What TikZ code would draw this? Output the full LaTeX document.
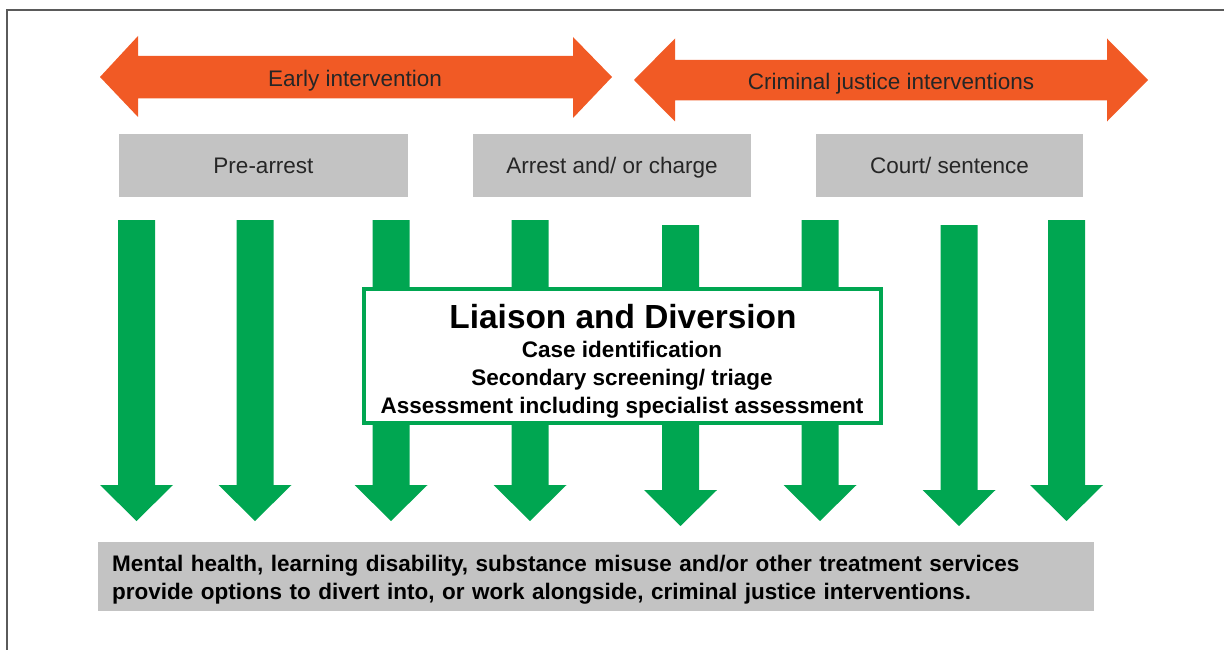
\documentclass[tikz,border=0pt]{standalone}
\usepackage{fontspec}
\setmainfont{Liberation Sans}
\definecolor{ljorange}{HTML}{F15A25}
\definecolor{ljgreen}{HTML}{00A651}
\definecolor{ljgray}{HTML}{C3C3C3}
\definecolor{ljframe}{HTML}{5A5A5A}
\tikzset{
  orangearrow/.style={fill=ljorange, draw=none},
  greenarrow/.style={fill=ljgreen, draw=none},
  stagebox/.style={fill=ljgray, draw=none, minimum height=63pt, inner sep=0pt,
    text height=16pt, text depth=0pt,
    font=\fontsize{22.5}{27}\selectfont, text=black!85},
  arrowlabel/.style={font=\fontsize{22.5}{27}\selectfont, text=black!85, inner sep=0pt,
    text height=16pt, text depth=0pt},
  ldbox/.style={fill=white, draw=ljgreen, line width=4pt, minimum width=517pt, minimum height=134pt,
    inner sep=0pt, align=center},
  bottombox/.style={fill=ljgray, draw=none, minimum width=996pt, minimum height=69pt, inner sep=0pt},
  bottomtext/.style={inner sep=0pt, text width=970pt, align=left,
    font=\fontsize{22.5}{28}\selectfont\bfseries},
}
\begin{document}
\begin{tikzpicture}[x=1pt,y=-1pt]
\useasboundingbox (0,0) rectangle (1224,650);
% frame
\draw[ljframe, line width=2pt] (6.5,650) -- (6.5,10) -- (1224,10);
% orange double arrows
\fill[orangearrow] (100,77) -- (138,36) -- (138,56) -- (573,56) -- (573,37) -- (612,77)
  -- (573,118) -- (573,98.5) -- (138,98.5) -- (138,117) -- cycle;
\node[arrowlabel] (early) at (355,78.5) {Early intervention};
\fill[orangearrow] (634,80) -- (675,38.5) -- (675,60) -- (1107,60) -- (1107,38.5) -- (1148,80)
  -- (1107,121.5) -- (1107,100.5) -- (675,100.5) -- (675,121.5) -- cycle;
\node[arrowlabel] (cji) at (891,82) {Criminal justice interventions};
% stage boxes
\node[stagebox, minimum width=289pt] (pre) at (263.5,165.5) {Pre-arrest};
\node[stagebox, minimum width=278pt] (arrest) at (612,165.5) {Arrest and/ or charge};
\node[stagebox, minimum width=267pt] (court) at (949.5,165.5) {Court/ sentence};
% green arrows
\foreach \cx/\top/\ht in {136.5/220/485, 255/220/485, 391/220/485, 530/220/485,
                          680.5/225/490, 820/220/485, 959/225/490, 1066.5/220/485}{
  \fill[greenarrow] (\cx-18.5,\top) -- (\cx+18.5,\top) -- (\cx+18.5,\ht) -- (\cx+36.5,\ht)
    -- (\cx,\ht+36) -- (\cx-36.5,\ht) -- (\cx-18.5,\ht) -- cycle;
}
% liaison box
\node[ldbox] (ld) at (622.5,356) {};
\node[font=\fontsize{33.4}{38}\selectfont\bfseries, inner sep=0pt] (ldtitle) at (623,317) {Liaison and Diversion};
\node[font=\fontsize{22.5}{28}\selectfont\bfseries, inner sep=0pt, align=center, anchor=north] (ldtext) at (622,340.5)
  {Case identification\\Secondary screening/ triage\\Assessment including specialist assessment};
% bottom box
\node[bottombox] (services) at (596,576) {};
\node[bottomtext, anchor=north west] (servicestext) at (112,555)
  {Mental health, learning disability, substance misuse and/or other treatment services\\
   provide options to divert into, or work alongside, criminal justice interventions.};
\end{tikzpicture}
\end{document}
